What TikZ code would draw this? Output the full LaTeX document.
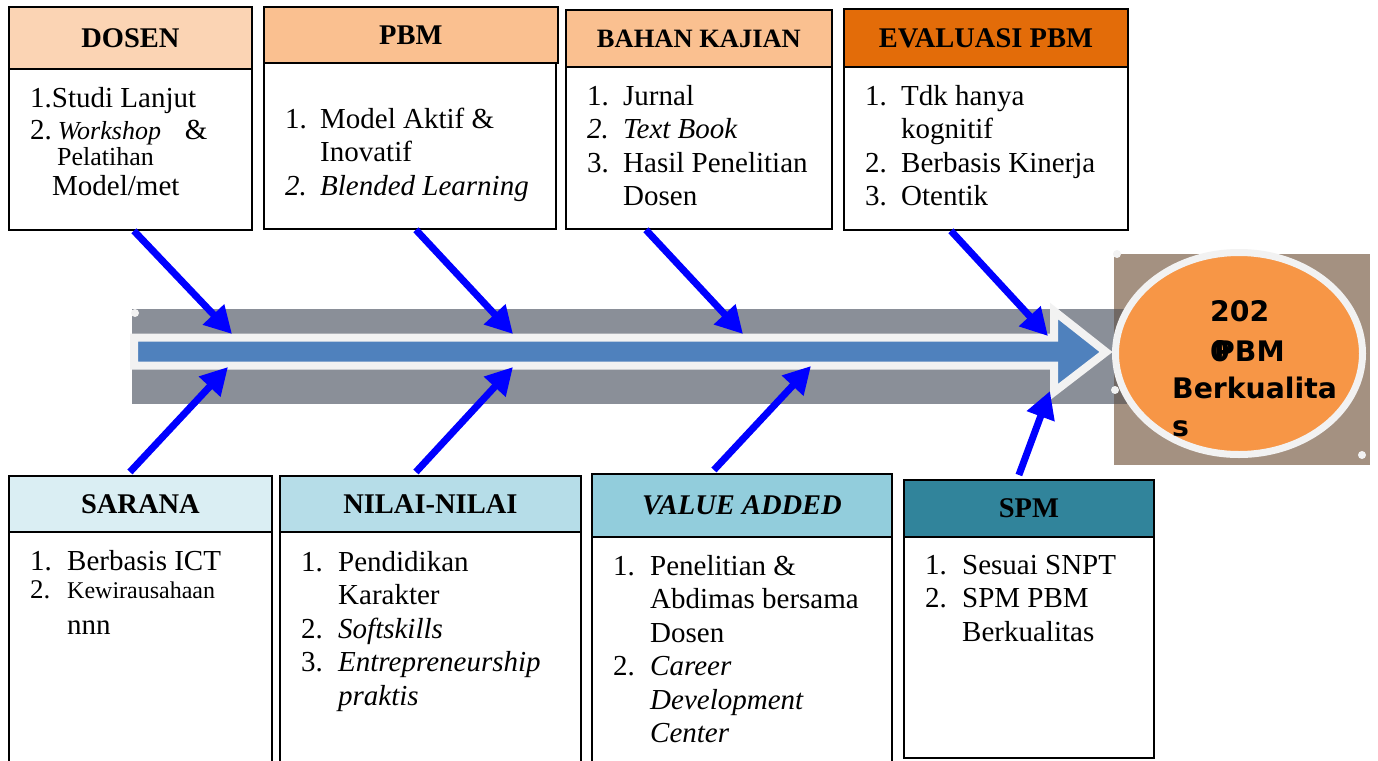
\documentclass[tikz,border=0pt]{standalone}
\usepackage{fontspec}
\setmainfont{Liberation Serif}
\newfontfamily\circfont{DejaVu Sans}
\usetikzlibrary{arrows.meta,positioning}
\definecolor{dosenc}{HTML}{FBD4B4}
\definecolor{pbmc}{HTML}{FAC090}
\definecolor{evalc}{HTML}{E36C09}
\definecolor{saranac}{HTML}{DAEEF3}
\definecolor{nilaic}{HTML}{B6DDE8}
\definecolor{valuec}{HTML}{92CDDC}
\definecolor{spmc}{HTML}{31849B}
\definecolor{bandc}{RGB}{138,143,152}
\definecolor{squarec}{RGB}{164,145,129}
\definecolor{overlapc}{RGB}{112,104,100}
\definecolor{spinec}{HTML}{4F81BD}
\definecolor{ringc}{HTML}{F2F2F2}
\definecolor{circc}{HTML}{F79646}

\begin{document}
\begin{tikzpicture}[x=1pt, y=-1pt, >={Triangle[length=27pt,width=28pt]},
  hdr/.style={draw=black, line width=1.8pt, anchor=north west, inner sep=0pt,
    font=\fontsize{28.5}{34}\selectfont\bfseries},
  bodybox/.style={draw=black, line width=1.8pt, anchor=north west, inner sep=0pt, fill=white},
  txt/.style={anchor=base west, inner sep=0pt, font=\fontsize{29}{33.5}\selectfont},
  feed/.style={->, blue, line width=7pt},
  ctxt/.style={anchor=base west, inner sep=0pt, font=\circfont\bfseries\fontsize{28.3}{34}\selectfont}]
\useasboundingbox (0,0) rectangle (1378,760);
\fill[white] (0,0) rectangle (1378,760);

% spine
\fill[squarec] (1114,254) rectangle (1370,465);
\fill[bandc] (132,309) rectangle (1114,404);
\fill[overlapc] (1114,309) rectangle (1127,404);
\draw[line width=8pt, draw=ringc, fill=spinec] (134,337.5) -- (1054,337.5) -- (1054,311)
  -- (1106,352) -- (1054,392) -- (1054,365.5) -- (134,365.5) -- cycle;
\fill[ringc] (135,313) circle [radius=4];
\fill[ringc] (1117,254) circle [radius=4];
\fill[ringc] (1115,390) circle [radius=4];
\fill[ringc] (1362,455) circle [radius=4];
\draw[line width=7pt, draw=ringc, fill=circc] (1239,353.5) ellipse [x radius=123.5, y radius=101];
\node[ctxt] (goal1) at (1210,321) {202};
\node[ctxt] (goal2) at (1210,361) {0};
\node[ctxt] (goal3) at (1214,361) {PBM};
\node[ctxt] (goal4) at (1172,398) {Berkualita};
\node[ctxt] (goal5) at (1172,436) {s};

% points on the spine
\coordinate (in1) at (232,334);
\coordinate (in2) at (513,334);
\coordinate (in3) at (743,334);
\coordinate (in4) at (1048,336);
\coordinate (out1) at (228,367);
\coordinate (out2) at (513,367);
\coordinate (out3) at (811,366);
\coordinate (out4) at (1050,391);

% top boxes
\node[bodybox, minimum width=243, minimum height=161] (dosenb) at (8,68) {};
\node[hdr, fill=dosenc, minimum width=243, minimum height=62] (dosenh) at (8,6) {DOSEN};
\node[txt] (dosent) at (30,107) {\begin{tabular}[t]{@{}l@{}}
  1.Studi Lanjut\\[-1.5pt]
  2.\hspace{6pt}{\fontsize{26}{30}\selectfont\textit{Workshop}}\hspace{24pt}\&\\[-7.5pt]
  \hspace{27pt}{\fontsize{26}{30}\selectfont Pelatihan}\\[-3.5pt]
  \hspace{22pt}Model/met\end{tabular}};

\node[bodybox, minimum width=292, minimum height=166] (pbmb) at (263,62) {};
\node[hdr, fill=pbmc, minimum width=294, minimum height=56] (pbmh) at (263,6) {PBM};
\node[txt] (pbmt) at (285,128) {\begin{tabular}[t]{@{}p{35pt}@{}l@{}}
  1. & Model Aktif \&\\
     & Inovatif\\
  \textit{2.} & \textit{Blended Learning}\end{tabular}};

\node[bodybox, minimum width=266, minimum height=162] (bahanb) at (565,66) {};
\node[hdr, fill=pbmc, minimum width=266, minimum height=57,
  font=\fontsize{26.5}{32}\selectfont\bfseries] (bahanh) at (565,9) {BAHAN KAJIAN};
\node[txt] (bahant) at (587,105) {\begin{tabular}[t]{@{}p{36pt}@{}l@{}}
  1. & Jurnal\\
  \textit{2.} & \textit{Text Book}\\
  3. & Hasil Penelitian\\
     & Dosen\end{tabular}};

\node[bodybox, minimum width=284, minimum height=163] (evalb) at (843,66) {};
\node[hdr, fill=evalc, minimum width=284, minimum height=58] (evalh) at (843,8) {EVALUASI PBM};
\node[txt] (evalt) at (865,105) {\begin{tabular}[t]{@{}p{36pt}@{}l@{}}
  1. & Tdk hanya\\
     & kognitif\\
  2. & Berbasis Kinerja\\
  3. & Otentik\end{tabular}};

% bottom boxes
\node[bodybox, minimum width=263, minimum height=244] (saranab) at (8,531) {};
\node[hdr, fill=saranac, minimum width=263, minimum height=56] (saranah) at (8,475) {SARANA};
\node[txt] (saranat) at (30,570) {\begin{tabular}[t]{@{}p{37pt}@{}l@{}}
  1. & Berbasis ICT\\[-5pt]
  {\fontsize{27}{31}\selectfont 2.} & {\fontsize{24}{28}\selectfont Kewirausahaan}\\[2pt]
     & nnn\end{tabular}};

\node[bodybox, minimum width=301, minimum height=244] (nilaib) at (279,531) {};
\node[hdr, fill=nilaic, minimum width=301, minimum height=56] (nilaih) at (279,475) {NILAI-NILAI};
\node[txt] (nilait) at (301,571) {\begin{tabular}[t]{@{}p{37pt}@{}l@{}}
  1. & Pendidikan\\
     & Karakter\\
  2. & \textit{Softskills}\\
  3. & \textit{Entrepreneurship}\\
     & \textit{praktis}\end{tabular}};

\node[bodybox, minimum width=300, minimum height=239] (valueb) at (591,536) {};
\node[hdr, fill=valuec, minimum width=300, minimum height=63] (valueh) at (591,473) {\textit{VALUE ADDED}};
\node[txt] (valuet) at (613,575) {\begin{tabular}[t]{@{}p{37pt}@{}l@{}}
  1. & Penelitian \&\\
     & Abdimas bersama\\
     & Dosen\\
  2. & \textit{Career}\\
     & \textit{Development}\\
     & \textit{Center}\end{tabular}};

\node[bodybox, minimum width=250, minimum height=221] (spmb) at (903,536) {};
\node[hdr, fill=spmc, minimum width=250, minimum height=57] (spmh) at (903,479) {SPM};
\node[txt] (spmt) at (925,574) {\begin{tabular}[t]{@{}p{37pt}@{}l@{}}
  1. & Sesuai SNPT\\
  2. & SPM PBM\\
     & Berkualitas\end{tabular}};

% arrows in from the top
\draw[feed] ([xshift=3.5pt]dosenb.south) -- (in1);
\draw[feed] ([xshift=6pt]pbmb.south) -- (in2);
\draw[feed] ([xshift=-53pt]bahanb.south) -- (in3);
\draw[feed] ([xshift=-35pt]evalb.south) -- (in4);
% arrows in from the bottom
\draw[feed] ([xshift=-10.5pt, yshift=3pt]saranah.north) -- (out1);
\draw[feed] ([xshift=-14.5pt, yshift=3pt]nilaih.north) -- (out2);
\draw[feed] ([xshift=-28pt, yshift=3pt]valueh.north) -- (out3);
\draw[feed] ([xshift=-10pt, yshift=4pt]spmh.north) -- (out4);
\end{tikzpicture}
\end{document}
